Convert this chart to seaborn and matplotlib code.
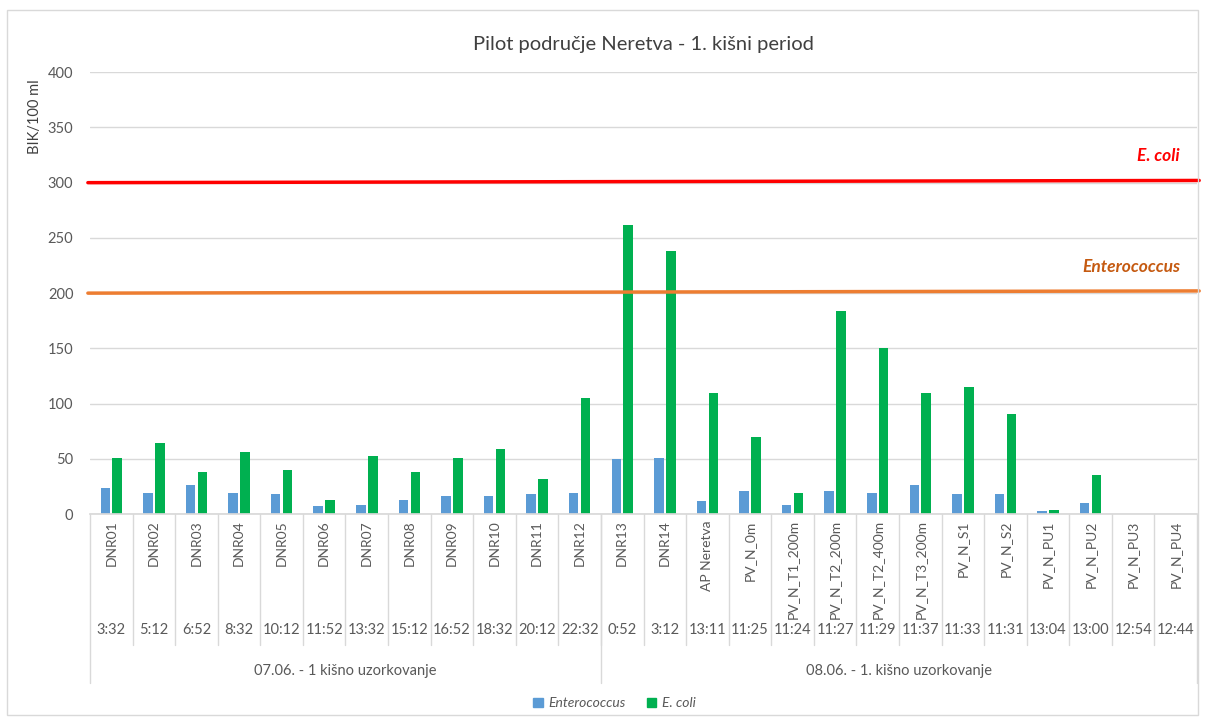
import pandas as pd
import numpy as np
import matplotlib
matplotlib.use('Agg')
import matplotlib.pyplot as plt
from matplotlib.patches import Rectangle
import seaborn as sns

# Sample points, sampling times and measured values (BIK/100 ml)
names = ['DNR01', 'DNR02', 'DNR03', 'DNR04', 'DNR05', 'DNR06', 'DNR07', 'DNR08',
         'DNR09', 'DNR10', 'DNR11', 'DNR12', 'DNR13', 'DNR14', 'AP Neretva',
         'PV_N_0m', 'PV_N_T1_200m', 'PV_N_T2_200m', 'PV_N_T2_400m', 'PV_N_T3_200m',
         'PV_N_S1', 'PV_N_S2', 'PV_N_PU1', 'PV_N_PU2', 'PV_N_PU3', 'PV_N_PU4']
times = ['3:32', '5:12', '6:52', '8:32', '10:12', '11:52', '13:32', '15:12',
         '16:52', '18:32', '20:12', '22:32', '0:52', '3:12', '13:11', '11:25',
         '11:24', '11:27', '11:29', '11:37', '11:33', '11:31', '13:04', '13:00',
         '12:54', '12:44']
groups = ['07.06. - 1 kišno uzorkovanje', '08.06. - 1. kišno uzorkovanje']
group_sizes = [12, 14]
entero = [24, 19, 26, 19, 18, 7, 8, 13, 16, 16, 18, 19, 50, 51, 12, 21, 8, 21,
          19, 26, 18, 18, 3, 10, 0, 0]
ecoli = [51, 64, 38, 56, 40, 13, 53, 38, 51, 59, 32, 105, 262, 238, 110, 70, 19,
         184, 150, 110, 115, 91, 4, 35, 0, 0]
limit_labels = ['E. coli', 'Enterococcus']
limit_values = [300, 200]
limit_colors = ['#FF0000', '#ED7D31']
limit_text_colors = ['#FF0000', '#C55A11']

df = pd.DataFrame({'uzorak': names * 2,
                   'vrijednost': entero + ecoli,
                   'parametar': ['Enterococcus'] * len(names) + ['E. coli'] * len(names)})

sns.set_theme(style='white')
plt.rcParams['font.family'] = ['Lato', 'DejaVu Sans']
grey = '#595959'
line_grey = '#D9D9D9'

fig = plt.figure(figsize=(12.05, 7.22), dpi=100)
ax = fig.add_axes([0.0747, 0.288, 0.9187, 0.612])

sns.barplot(data=df, x='uzorak', y='vrijednost', hue='parametar',
            palette={'Enterococcus': '#5B9BD5', 'E. coli': '#00B050'},
            width=0.56, gap=0.2, linewidth=0, saturation=1, ax=ax, legend=False)

n = len(names)
ax.set_xlim(-0.5, n - 0.5)
ax.set_ylim(0, 400)
ax.set_yticks(range(0, 401, 50))
ax.yaxis.grid(True, color=line_grey, linewidth=1)
ax.set_axisbelow(True)
for s in ['top', 'right', 'left']:
    ax.spines[s].set_visible(False)
ax.spines['bottom'].set_color(line_grey)
ax.tick_params(axis='y', colors=grey, labelsize=10.5, length=0, pad=12)
ax.tick_params(axis='x', length=0, labelbottom=False)
ax.set_xlabel('')
ax.set_ylabel('BIK/100 ml', color='#404040', fontsize=10.5)
ax.yaxis.set_label_coords(-0.043, 0.9)

# threshold lines
for lab, val, col, tcol in zip(limit_labels, limit_values, limit_colors, limit_text_colors):
    ax.plot([-0.55, n - 0.45], [val, val + 2], color=col, lw=2.5, clip_on=False, zorder=3)
    ax.text(n - 0.9, val + 24, lab, color=tcol, fontsize=12.5, fontstyle='italic',
            fontweight='bold', ha='right', va='center')

# multi-level category axis
tr = ax.get_xaxis_transform()
for i, (nm, tm) in enumerate(zip(names, times)):
    ax.text(i, -0.014, nm, rotation=90, ha='center', va='top', fontsize=10,
            color=grey, transform=tr)
    ax.text(i, -0.262, tm, ha='center', va='center', fontsize=10.5,
            color=grey, transform=tr)
for i in range(1, n):
    ax.plot([i - 0.5, i - 0.5], [0, -0.296], color=line_grey, lw=1,
            transform=tr, clip_on=False)
start = 0
for g, size in zip(groups, group_sizes):
    ax.plot([start - 0.5, start - 0.5], [0, -0.382], color=line_grey, lw=1,
            transform=tr, clip_on=False)
    ax.text(start + (size - 1) / 2, -0.355, g, ha='center', va='center',
            fontsize=10.5, color=grey, transform=tr)
    start += size
ax.plot([n - 0.5, n - 0.5], [0, -0.382], color=line_grey, lw=1,
        transform=tr, clip_on=False)

ax.set_title('Pilot područje Neretva - 1. kišni period', fontsize=14.5,
             color='#404040', pad=16)

# legend
handles = [Rectangle((0, 0), 1, 1, color='#5B9BD5'),
           Rectangle((0, 0), 1, 1, color='#00B050')]
leg = fig.legend(handles, ['Enterococcus', 'E. coli'], loc='center', ncol=2,
                 bbox_to_anchor=(0.51, 0.026), frameon=False, fontsize=10,
                 handlelength=0.7, handleheight=0.7, handletextpad=0.4,
                 columnspacing=1.5)
for t in leg.get_texts():
    t.set_fontstyle('italic')
    t.set_color(grey)

# outer chart border
fig.patches.append(Rectangle((0.006, 0.01), 0.988, 0.976, transform=fig.transFigure,
                             fill=False, edgecolor=line_grey, lw=1))

fig.savefig('out.png', dpi=100)
